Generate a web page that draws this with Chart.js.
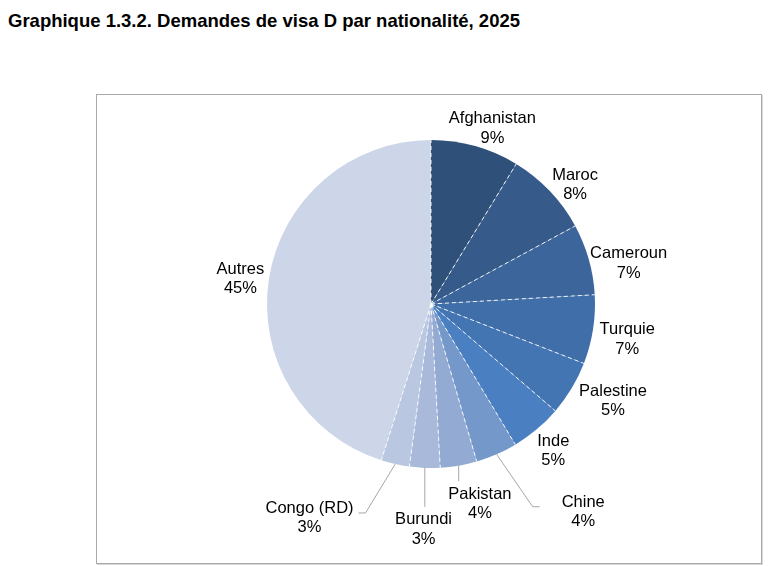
<!DOCTYPE html>
<html lang="fr">
<head>
<meta charset="utf-8">
<title>Demandes de visa D par nationalité, 2025</title>
<script src="https://cdn.jsdelivr.net/npm/chart.js@4.4.1/dist/chart.umd.min.js"></script>
<style>
  body { margin: 0; background: #fff; width: 768px; height: 566px; overflow: hidden;
         font-family: "Liberation Sans", Arial, sans-serif; }
  #title { position: absolute; left: 8px; top: 10px; font-weight: bold; font-size: 18.5px; color: #000; white-space: nowrap; }
  #frame { position: absolute; left: 96px; top: 94px; width: 666px; height: 470px; box-sizing: border-box;
           border: 1px solid #a9a9a9; box-shadow: 1px 1px 0 #d9d9d9; }
  #wrap { position: absolute; left: 0; top: 0; width: 768px; height: 566px; }
</style>
</head>
<body>
<div id="title">Graphique 1.3.2. Demandes de visa D par nationalité, 2025</div>
<div id="frame"></div>
<div id="wrap"><canvas id="visaPie"></canvas></div>

<script>
// ── Data (share of visa D applications, %) ──────────────────────────────────
const nationalities = ['Afghanistan', 'Maroc', 'Cameroun', 'Turquie', 'Palestine', 'Inde',
                       'Chine', 'Pakistan', 'Burundi', 'Congo (RD)', 'Autres'];
const shares = [8.7, 8.4, 7.0, 6.8, 5.4, 5.1, 4.1, 3.6, 3.0, 2.8, 45.1];

// slice colours, dark to light
const sliceColors = ['#2f5078', '#365b8b', '#3b659b', '#3f6ea8', '#4375b3', '#4a7fc1',
                     '#7598ca', '#93aad2', '#a9b9da', '#bac7e1', '#ccd6e8'];

// ── White dashed separators between slices ──────────────────────────────────
const dashedEdges = {
  id: 'dashedEdges',
  afterDatasetsDraw(chart) {
    const ctx = chart.ctx;
    const meta = chart.getDatasetMeta(0);
    ctx.save();
    ctx.strokeStyle = 'rgba(255,255,255,0.9)';
    ctx.lineWidth = 1;
    ctx.setLineDash([4, 3]);
    meta.data.forEach(arc => {
      const p = arc.getProps(['x', 'y', 'startAngle', 'outerRadius'], true);
      ctx.beginPath();
      ctx.moveTo(p.x, p.y);
      ctx.lineTo(p.x + Math.cos(p.startAngle) * p.outerRadius, p.y + Math.sin(p.startAngle) * p.outerRadius);
      ctx.stroke();
    });
    ctx.restore();
  }
};

// ── Outside labels (name + rounded %) with leader lines ─────────────────────
const sliceLabels = {
  id: 'sliceLabels',
  afterDatasetsDraw(chart, args, opts) {
    const ctx = chart.ctx;
    const meta = chart.getDatasetMeta(0);
    const total = shares.reduce((a, b) => a + b, 0);
    ctx.save();
    ctx.font = opts.font;
    ctx.textAlign = 'center';
    ctx.textBaseline = 'middle';

    meta.data.forEach((arc, i) => {
      const p = arc.getProps(['x', 'y', 'startAngle', 'endAngle', 'outerRadius'], true);
      const mid = (p.startAngle + p.endAngle) / 2;
      const ux = Math.cos(mid), uy = Math.sin(mid);
      const name = nationalities[i];
      const lines = [name, Math.round(shares[i] / total * 100) + '%'];
      const w = Math.max(...lines.map(t => ctx.measureText(t).width));
      const lh = opts.lineHeight, h = lh * lines.length;

      const a = p.outerRadius + opts.gap;
      let cx = p.x + ux * a + ux * w / 2;
      let cy = p.y + uy * a + uy * h / 2;
      const n = opts.nudge[name] || [0, 0];
      cx += n[0]; cy += n[1];

      const ld = opts.leaders[name];
      if (ld) {
        const ex = p.x + ux * p.outerRadius, ey = p.y + uy * p.outerRadius;
        const left = cx - w / 2, right = cx + w / 2, top = cy - h / 2;
        ctx.save();
        ctx.strokeStyle = '#a6a6a6';
        ctx.lineWidth = 1;
        ctx.beginPath();
        ctx.moveTo(ex, ey);
        if (ex > left && ex < right) {
          ctx.lineTo(ex, top - 3);
        } else {
          const toRight = ex < left;
          const side = toRight ? left - ld.gap : right + ld.gap;
          const hy = cy - 5;
          ctx.lineTo(side + (toRight ? -7 : 7), hy);
          ctx.lineTo(side, hy);
        }
        ctx.stroke();
        ctx.restore();
      }

      ctx.fillStyle = '#000';
      lines.forEach((t, k) => ctx.fillText(t, cx, cy - h / 2 + lh * (k + 0.5)));
    });
    ctx.restore();
  }
};

// ── Chart ───────────────────────────────────────────────────────────────────
new Chart(document.getElementById('visaPie'), {
  type: 'pie',
  data: {
    labels: nationalities,
    datasets: [{
      data: shares,
      backgroundColor: sliceColors,
      borderWidth: 0
    }]
  },
  options: {
    responsive: true,
    maintainAspectRatio: false,
    animation: false,
    layout: { padding: { left: 267, right: 173, top: 140, bottom: 98 } },
    plugins: {
      legend: { display: false },
      tooltip: { enabled: false },
      sliceLabels: {
        font: '16.5px "Liberation Sans", Arial, sans-serif',
        lineHeight: 19.5,
        gap: 5,
        nudge: {
          'Afghanistan': [4, 6], 'Maroc': [5, 11], 'Cameroun': [-2, 11], 'Turquie': [2, 6],
          'Palestine': [8, 0], 'Inde': [3, 3], 'Autres': [0, 4],
          'Chine': [76, 35], 'Pakistan': [15, 14], 'Burundi': [0, 37], 'Congo (RD)': [-75, 30]
        },
        leaders: {
          'Chine': { gap: 22 }, 'Pakistan': { gap: 5 }, 'Burundi': { gap: 5 }, 'Congo (RD)': { gap: 5 }
        }
      }
    }
  },
  plugins: [dashedEdges, sliceLabels]
});
</script>
</body>
</html>
